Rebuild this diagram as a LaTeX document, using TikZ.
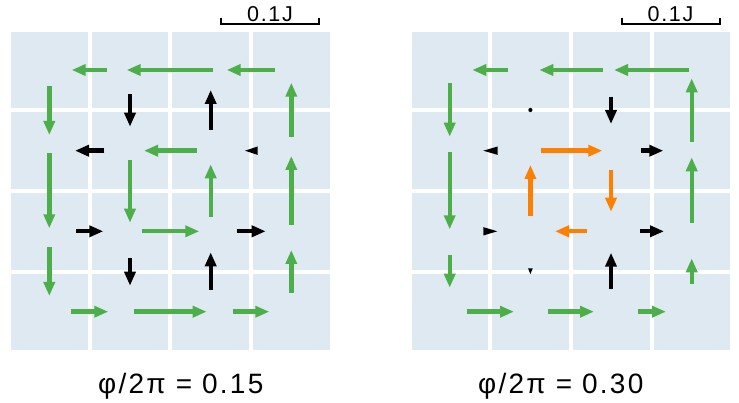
\documentclass[tikz,border=0pt]{standalone}
\usepackage{fontspec}
\setmainfont{Liberation Sans}[LetterSpace=8]
\usetikzlibrary{arrows.meta}
\definecolor{cellc}{RGB}{222,233,242}
\definecolor{cgreen}{RGB}{77,175,74}
\definecolor{corange}{RGB}{255,127,0}
\definecolor{cblack}{RGB}{0,0,0}
\tikzset{
  qv/.style={line width=4.4pt, -{Triangle[length=14pt,width=11pt]}},
  gq/.style={qv, draw=cgreen, fill=cgreen},
  oq/.style={qv, draw=corange, fill=corange},
  bq/.style={qv, draw=cblack, fill=cblack},
  scalebar/.style={line width=1.8pt, black},
  lbl/.style={inner sep=0pt, anchor=base, font=\fontsize{21.5}{25}\selectfont},
  biglbl/.style={inner sep=0pt, anchor=base, font=\fontsize{28}{33}\selectfont}
}
\begin{document}
\begin{tikzpicture}[x=1pt,y=-1pt]
\useasboundingbox (0,0) rectangle (739,403);
% cells
\foreach \gx in {11,411.7}{
  \foreach \i in {0,...,3}{
    \foreach \j in {0,...,3}{
      \fill[cellc] (\gx+80.7*\i,31.7+80.7*\j) rectangle ++(76.5,76.5);
    }
  }
}
% ---------------- left panel ----------------
% scale bar
\draw[scalebar] (221,18.3) -- (221,24) -- (319,24) -- (319,18.3);
\node[lbl] (sbL) at (270,21.7) {0.1J};
% green
\draw[gq] (106.7,70) -- (71.7,70);
\draw[gq] (213.3,70) -- (126.7,70);
\draw[gq] (275,70) -- (226.7,70);
\draw[gq] (49.3,85.7) -- (49.3,135);
\draw[gq] (291.3,137.3) -- (291.3,82.7);
\draw[gq] (196.7,150.7) -- (144,150.7);
\draw[gq] (49.3,153.3) -- (49.3,228.3);
\draw[gq] (130,160) -- (130,222.7);
\draw[gq] (210.7,216.7) -- (210.7,164.3);
\draw[gq] (291.3,225) -- (291.3,156);
\draw[gq] (142.3,231.3) -- (199.3,231.3);
\draw[gq] (49.3,247.3) -- (49.3,296);
\draw[gq] (291.3,292.7) -- (291.3,250);
\draw[gq] (71,311.7) -- (108.3,311.7);
\draw[gq] (134.3,311.7) -- (206.7,311.7);
\draw[gq] (232.7,311.7) -- (269.3,311.7);
% black
\draw[bq] (130,94.3) -- (130,126.7);
\draw[bq] (210.7,130) -- (210.7,90);
\draw[bq] (104.3,150.7) -- (75,150.7);
\fill[cblack] (245,150.7) -- (257.5,146.5) -- (257.5,154.9) -- cycle;
\draw[bq] (76,231.3) -- (103.3,231.3);
\draw[bq] (236.7,231.3) -- (265.7,231.3);
\draw[bq] (130,257.7) -- (130,285.7);
\draw[bq] (210.7,290) -- (210.7,252.3);
\node[biglbl] (capL) at (180.8,393) {φ/2π = 0.15};
% ---------------- right panel ----------------
\draw[scalebar] (621.7,18.3) -- (621.7,24) -- (720,24) -- (720,18.3);
\node[lbl] (sbR) at (670.5,21.7) {0.1J};
% green
\draw[gq] (507.7,70) -- (472.3,70);
\draw[gq] (602.7,70) -- (539.3,70);
\draw[gq] (689.3,70) -- (614,70);
\draw[gq] (449.7,83.3) -- (449.7,136.7);
\draw[gq] (691.7,141.7) -- (691.7,78.3);
\draw[gq] (449.7,152) -- (449.7,229.3);
\draw[gq] (691.7,223.3) -- (691.7,157.3);
\draw[gq] (449.7,255) -- (449.7,287.7);
\draw[gq] (691.7,284) -- (691.7,258.3);
\draw[gq] (466.7,311.7) -- (514,311.7);
\draw[gq] (548.3,311.7) -- (594,311.7);
\draw[gq] (638.3,311.7) -- (666,311.7);
% orange
\draw[oq] (540.7,150.7) -- (602.3,150.7);
\draw[oq] (530.4,216) -- (530.4,165);
\draw[oq] (611,170) -- (611,211.7);
\draw[oq] (586.7,231.3) -- (555,231.3);
% black
\fill[cblack] (530.4,110) circle (2.1);
\draw[bq] (611,96.7) -- (611,124);
\fill[cblack] (483.3,150.7) -- (497.7,146.5) -- (497.7,154.9) -- cycle;
\draw[bq] (640.7,150.7) -- (663.3,150.7);
\fill[cblack] (497.3,231.3) -- (483.3,227.1) -- (483.3,235.5) -- cycle;
\draw[bq] (640,231.3) -- (664,231.3);
\fill[cblack] (530.4,274) -- (528,268.3) -- (532.8,268.3) -- cycle;
\draw[bq] (611,289.3) -- (611,252.7);
\node[biglbl] (capR) at (560.8,393) {φ/2π = 0.30};
\end{tikzpicture}
\end{document}
